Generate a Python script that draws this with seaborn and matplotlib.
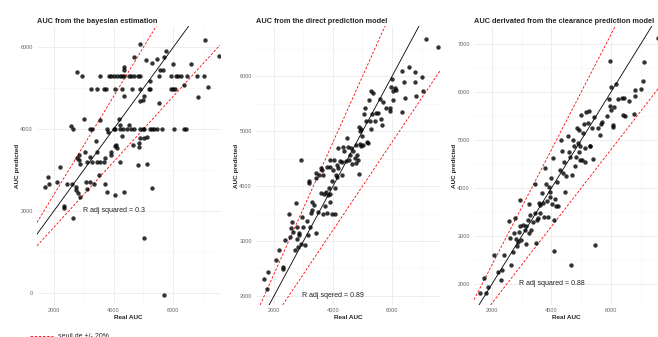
import matplotlib
matplotlib.use("Agg")
import matplotlib.pyplot as plt
import pandas as pd
import seaborn as sns
from matplotlib.lines import Line2D
from matplotlib.ticker import MultipleLocator

sns.set_context("paper")
sns.set_style("whitegrid")
plt.rcParams['font.family'] = ['Liberation Sans', 'DejaVu Sans']

# ---------------- data ----------------
bayes_real = [4900, 7070, 7540, 4675, 5070, 5440, 5290, 5745, 5690, 5655, 5550, 6585, 6000, 2765, 4360, 4360, 5215,
              2935, 3550, 3830, 3920, 4000, 4115, 4205, 4280, 4360, 4505, 4585, 4675, 4810, 4900, 5520, 5910, 6105,
              6170, 6250, 6475, 6810, 7035,
              3235, 3460, 3665, 3755, 4055, 4280, 4620, 4900, 5180, 5235, 5935, 5990, 6045,
              7170, 6835, 6360, 5520, 5010, 4990, 4875, 4340, 3010, 3550, 4170, 4205, 4505,
              3215, 3270, 3775, 4000, 4055, 4225, 4315, 4450, 4595, 4675, 4900, 4990, 5035, 5215, 5295, 5350, 5460,
              5630, 6025, 6360, 6415,
              2560, 2630, 3415, 3800, 4295, 4090, 4115, 4055, 4900, 5035, 5125, 4855, 4855, 4640, 3920, 3920, 3215,
              2855, 2785, 2830, 2875, 3125, 3270, 3440, 3550, 3665, 3720, 3460, 3045, 4205, 4810, 5135, 2200, 1800,
              1695, 1845, 2090, 2425, 2595, 2740, 2755, 2820, 2875, 3080, 3215, 3360, 3125, 3720, 3775, 4055, 4360,
              3495, 5295, 2335, 2335, 2650, 5010, 5685]
bayes_pred = [6080, 6185, 5780, 5760, 5700, 5720, 5615, 5900, 5755, 5450, 5435, 5600, 5600, 5385, 5515, 5450, 5165,
              5290, 5290, 5290, 5290, 5290, 5290, 5290, 5290, 5290, 5290, 5290, 5290, 5290, 5290, 5290, 5290, 5290,
              5290, 5290, 5290, 5290, 5290,
              4990, 4990, 4990, 4990, 4990, 4990, 4990, 4990, 4990, 4990, 4990, 4990, 4990,
              5020, 4780, 5085, 4650, 4800, 4715, 4675, 4800, 4250, 4225, 4250, 4105, 4090,
              4000, 4000, 4000, 4000, 4000, 4000, 4000, 4000, 4000, 4000, 4000, 4000, 4000, 4000, 4000, 4000, 4000,
              4000, 4000, 4000, 4000,
              4065, 4000, 3700, 3925, 3820, 3615, 3535, 3575, 3780, 3780, 3795, 3670, 3560, 3615, 3450, 3370, 3330,
              3355, 3305, 3250, 3140, 3205, 3205, 3190, 3190, 3205, 3290, 3450, 3435, 3190, 3125, 3150, 3085, 2825,
              2595, 2650, 2695, 2650, 2650, 2580, 2515, 2430, 2350, 2695, 2715, 2660, 2530, 2650, 2455, 2390, 2455,
              2880, 2570, 2130, 2065, 1835, 1330, -55]

direct_real = [1660, 1750, 1810, 2070, 2170, 2290, 2290, 2380, 2540, 2575, 2505, 2595, 2655, 2710, 2745, 2765, 2790,
               2800, 2835, 2855, 2900, 2915, 2960, 2990, 3060, 3105, 3160, 3195, 3195, 3215, 3240, 3275, 3305, 3365,
               3420, 3440, 3440, 3475, 3520, 3580, 3610, 3635, 3645, 3670, 3690, 3735, 3760, 3780, 3780, 3835, 3870,
               3895, 3895, 3915, 3915, 3950, 3960, 4005, 4030, 4060, 4075, 4095, 4120, 4120, 4155, 4175, 4230, 4290,
               4320, 4345, 4365, 4435, 4480, 4515, 4545, 4590, 4625, 4660, 4680, 4740, 4770, 4795, 4820, 4850, 4865,
               4885, 4910, 4930, 4965, 4965, 5000, 5020, 5045, 5075, 5135, 5165, 5190, 5225, 5245, 5280, 5300, 5335,
               5360, 5415, 5470, 5530, 5585, 5640, 5675, 5695, 5810, 5920, 5945, 5980, 6010, 6035, 6035, 6090, 6145,
               6350, 6350, 6405, 6430, 6575, 6765, 6790, 6825, 7015, 7050, 7140, 7555]
direct_pred = [2310, 2130, 2445, 2660, 2830, 2525, 2485, 3025, 3070, 3230, 3490, 3350, 3170, 2830, 3690, 3250, 3045,
               2895, 3150, 3105, 4485, 2955, 3445, 3250, 2925, 3365, 3105, 4055, 4085, 3255, 3505, 3565, 3720, 3660,
               4240, 4145, 3150, 3535, 4195, 3870, 4330, 4300, 3490, 4210, 3855, 3645, 3890, 4345, 3505, 3840, 3975,
               4485, 4345, 3855, 3720, 4085, 3490, 4300, 4475, 3485, 3965, 4210, 4390, 4175, 4695, 4330, 4455, 4210,
               4435, 4715, 4635, 4455, 4880, 4715, 4485, 4565, 4695, 4405, 4635, 4515, 4420, 4745, 4575, 4485, 5075,
               4225, 4775, 5005, 5035, 4730, 4910, 4745, 5310, 5430, 5185, 4805, 4790, 5570, 5185, 5735, 5035, 5320,
               5705, 5185, 5340, 5340, 5585, 5215, 5115, 5525, 5430, 5430, 5370, 5800, 5950, 5735, 5565, 5785, 5750,
               6105, 5350, 5890, 5600, 6165, 6075, 5890, 5635, 5980, 5725, 6685, 6530]

clear_real = [1585, 1720, 1800, 1865, 2080, 2190, 2300, 2325, 2415, 2560, 2615, 2650, 2705, 2750, 2785, 2820, 2840,
              2875, 2895, 2930, 2950, 2975, 3040, 3120, 3140, 3155, 3200, 3230, 3255, 3290, 3320, 3365, 3435, 3455,
              3490, 3510, 3535, 3570, 3600, 3625, 3680, 3715, 3735, 3790, 3825, 3850, 3870, 3905, 3940, 3960, 3980,
              4015, 4050, 4070, 4095, 4130, 4160, 4185, 4205, 4275, 4320, 4350, 4385, 4410, 4465, 4500, 4540, 4575,
              4630, 4655, 4690, 4720, 4765, 4800, 4835, 4855, 4880, 4910, 4910, 4945, 4970, 4990, 5025, 5060, 5080,
              5115, 5135, 5160, 5215, 5250, 5280, 5305, 5360, 5380, 5440, 5470, 5550, 5640, 5660, 5695, 5865, 5920,
              5955, 5975, 6000, 6010, 6055, 6065, 6110, 6180, 6220, 6370, 6390, 6425, 6460, 6590, 6760, 6795, 6815,
              7020, 7060, 7120, 7565]
clear_pred = [1805, 2130, 1805, 1930, 2605, 2255, 2085, 2290, 2605, 3320, 2955, 2395, 2660, 3055, 3385, 2940, 2795,
              2885, 3090, 3740, 3210, 2920, 3230, 3125, 2830, 3210, 3335, 3670, 3055, 3440, 3125, 3300, 3475, 4080,
              2860, 3335, 3370, 3685, 3475, 3650, 3905, 3685, 3390, 4415, 4085, 3720, 3405, 4030, 3925, 3820, 4205,
              3670, 4620, 2695, 3335, 3765, 3615, 4115, 3630, 4365, 4990, 4780, 4310, 4550, 3925, 4240, 5075, 4760,
              4645, 2395, 4275, 5005, 4865, 4460, 4655, 5250, 4935, 4760, 5200, 4575, 4865, 5525, 4575, 5145, 5340,
              4830, 4550, 5575, 5350, 5595, 4885, 4885, 5250, 4600, 5480, 2815, 5250, 5110, 5340, 5365, 5490, 5855,
              5700, 6640, 6105, 5615, 5270, 5320, 5685, 6175, 5860, 5875, 5525, 5875, 5505, 5820, 5545, 5910, 6035,
              6060, 6235, 6620, 7125]

titles = ["AUC from the bayesian estimation",
          "AUC from the direct prediction model",
          "AUC derivated from the clearance prediction model"]
r2_labels = ["R adj squared = 0.3", "R adj sqered = 0.89", "R adj squared = 0.88"]
x_limits = [(1433, 7567), (1390, 7627), (1395, 7580)]
y_limits = [(-300, 6520), (1835, 6917), (1562, 7375)]
y_steps = [2000, 1000, 1000]
panel_left = [37, 256, 474]
panel_right = [220, 440, 658]

W, H = 658, 337
fig = plt.figure(figsize=(W / 100, H / 100), dpi=100)

datasets = [(bayes_real, bayes_pred), (direct_real, direct_pred), (clear_real, clear_pred)]

for i, (real, pred) in enumerate(datasets):
    df = pd.DataFrame({'real': real, 'pred': pred})
    ax = fig.add_axes([panel_left[i] / W, (H - 305) / H, (panel_right[i] - panel_left[i]) / W, (305 - 26) / H])
    ax.set_facecolor('white')
    ax.set_axisbelow(True)
    for s in ax.spines.values():
        s.set_visible(False)

    sns.scatterplot(data=df, x='real', y='pred', ax=ax, color='black', s=10, alpha=0.8,
                    linewidth=0, zorder=3)
    ax.axline((0, 0), slope=1, color='black', lw=0.6, zorder=2)
    ax.axline((0, 0), slope=1.2, color='red', lw=0.6, ls=(0, (3, 2)), zorder=2)
    ax.axline((0, 0), slope=0.8, color='red', lw=0.6, ls=(0, (3, 2)), zorder=2)

    ax.set_xlim(*x_limits[i])
    ax.set_ylim(*y_limits[i])
    ax.xaxis.set_major_locator(MultipleLocator(2000))
    ax.xaxis.set_minor_locator(MultipleLocator(1000))
    ax.yaxis.set_major_locator(MultipleLocator(y_steps[i]))
    ax.yaxis.set_minor_locator(MultipleLocator(y_steps[i] / 2))
    ax.grid(which='major', color='#ebebeb', lw=0.6)
    ax.grid(which='minor', color='#f3f3f3', lw=0.4)

    ax.tick_params(axis='y', which='major', length=2, width=0.4, color='#777777', pad=1,
                   labelsize=4, labelcolor='#666666')
    ax.tick_params(axis='x', which='major', length=0, pad=2, labelsize=4, labelcolor='#666666')
    ax.tick_params(which='minor', length=0)

    ax.set_xlabel('Real AUC', fontsize=4.6, fontweight='bold', labelpad=1.5)
    ax.set_ylabel('AUC predicted', fontsize=4.6, fontweight='bold', labelpad=0.5)
    ax.set_title(titles[i], loc='left', fontsize=5.3, fontweight='bold', pad=2.5)
    ax.text(4000, 2000, r2_labels[i], fontsize=5, ha='center', va='center', color='#222222', zorder=4)

# legend at the bottom (cut by the image border)
fig.add_artist(Line2D([30 / W, 53 / W], [1 / H, 1 / H], color='red', lw=0.6, ls=(0, (3, 2))))
fig.text(58 / W, 0 / H, 'seuil de +/- 20%', fontsize=5, va='center', ha='left')

fig.savefig('out.png', dpi=100)
